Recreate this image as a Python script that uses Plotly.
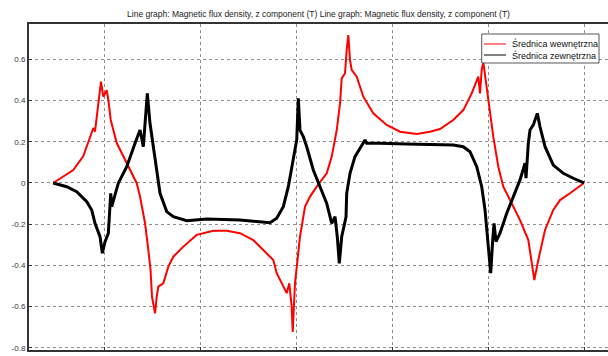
import plotly.graph_objects as go

# Arc-length position along the line and Bz values (T)
x_inner = [-10.6, -6.40, -4.31, -2.23, -1.88, -1.19, -0.83, -0.63, -0.15, 0.56, 0.90, 1.40, 2.65, 4.73,
           6.81, 7.50, 8.54, 9.23, 9.69, 10.0, 10.63, 10.98, 11.31, 12.35, 13.40, 14.44, 16.52, 19.31,
           22.77, 25.56, 28.33, 31.10, 33.19, 35.27, 35.98, 37.35, 38.06, 38.60, 39.10, 39.31, 39.79,
           40.83, 41.88, 42.92, 44.31, 46.40, 47.44, 48.48, 49.17, 49.52, 50.21, 50.56, 50.90, 51.25,
           51.60, 52.65, 54.02, 56.10, 58.90, 61.67, 65.15, 67.92, 70.0, 72.77, 74.85, 76.60, 77.65,
           77.98, 78.33, 78.69, 79.02, 79.73, 80.42, 81.10, 82.15, 83.19, 84.94, 86.67, 88.40, 89.10,
           89.65, 90.48, 91.88, 93.60, 95.0, 97.08, 100.0]
bz_inner = [0.0, 0.063, 0.131, 0.267, 0.249, 0.370, 0.432, 0.492, 0.419, 0.451, 0.403, 0.306, 0.194, 0.097,
            -0.001, -0.066, -0.194, -0.325, -0.422, -0.553, -0.633, -0.552, -0.503, -0.487, -0.406, -0.358,
            -0.309, -0.252, -0.232, -0.232, -0.244, -0.277, -0.325, -0.374, -0.438, -0.503, -0.535, -0.487,
            -0.600, -0.723, -0.487, -0.261, -0.115, -0.066, -0.018, 0.047, 0.128, 0.257, 0.387, 0.508, 0.533,
            0.646, 0.718, 0.597, 0.549, 0.516, 0.419, 0.338, 0.282, 0.249, 0.238, 0.249, 0.262, 0.306, 0.354,
            0.435, 0.500, 0.516, 0.435, 0.549, 0.587, 0.467, 0.354, 0.225, 0.079, -0.018, -0.099, -0.180,
            -0.277, -0.374, -0.471, -0.374, -0.228, -0.131, -0.083, -0.050, 0.0]

x_outer = [-10.6, -7.77, -5.69, -3.60, -2.56, -1.88, -0.83, -0.35, 0.21, 0.90, 1.40, 1.60, 2.98, 4.73,
           6.46, 7.50, 8.19, 8.54, 9.02, 9.58, 10.63, 11.67, 13.06, 14.44, 17.23, 21.40, 28.33, 34.58,
           35.98, 37.35, 38.40, 39.44, 40.15, 40.48, 40.83, 41.52, 42.23, 43.60, 45.0, 46.40, 47.44,
           48.13, 48.60, 49.02, 49.52, 50.42, 50.56, 51.25, 52.29, 53.33, 54.38, 54.73, 57.50, 63.06,
           70.0, 72.77, 74.85, 76.25, 77.65, 78.69, 79.38, 80.06, 80.56, 80.98, 81.25, 81.67, 82.50,
           83.90, 85.27, 86.67, 87.71, 87.92, 88.40, 88.75, 89.44, 90.27, 90.83, 91.88, 93.60, 95.69,
           97.77, 100.0]
bz_outer = [0.0, -0.018, -0.042, -0.091, -0.131, -0.196, -0.261, -0.341, -0.285, -0.244, -0.050, -0.115,
            -0.001, 0.079, 0.193, 0.257, 0.176, 0.306, 0.435, 0.290, 0.112, -0.050, -0.139, -0.164, -0.183,
            -0.175, -0.180, -0.193, -0.171, -0.115, -0.018, 0.128, 0.209, 0.411, 0.257, 0.225, 0.176, 0.063,
            -0.018, -0.099, -0.196, -0.164, -0.261, -0.390, -0.261, -0.164, -0.050, 0.047, 0.128, 0.168,
            0.209, 0.193, 0.193, 0.189, 0.183, 0.184, 0.176, 0.152, 0.079, -0.018, -0.131, -0.309, -0.438,
            -0.277, -0.196, -0.285, -0.244, -0.147, -0.067, 0.015, 0.096, 0.023, 0.193, 0.257, 0.282, 0.338,
            0.273, 0.176, 0.087, 0.047, 0.023, 0.0]

series_names = ["Średnica wewnętrzna", "Średnica zewnętrzna"]
series_colors = ["#ff0000", "#000000"]

x_ticks = [0, 20, 40, 60, 80, 100]
y_ticks = [-0.8, -0.6, -0.4, -0.2, 0, 0.2, 0.4, 0.6]
y_tick_text = ["-0.8", "-0.6", "-0.4", "-0.2", "0", "0.2", "0.4", "0.6"]

title_text = ("Line graph: Magnetic flux density, z component (T) "
              "Line graph: Magnetic flux density, z component (T)")

font = "Liberation Sans, Arial, sans-serif"

fig = go.Figure()
fig.add_trace(go.Scatter(x=x_inner, y=bz_inner, mode="lines", name=series_names[0],
                         line=dict(color=series_colors[0], width=2)))
fig.add_trace(go.Scatter(x=x_outer, y=bz_outer, mode="lines", name=series_names[1],
                         line=dict(color=series_colors[1], width=3)))

grid = dict(showgrid=True, gridcolor="#8c8c8c", gridwidth=1, griddash="dot",
            zeroline=False, ticks="inside", ticklen=3, tickcolor="#333333",
            tickfont=dict(family=font, size=8, color="#333333"),
            showline=True, linecolor="#333333", linewidth=2, automargin=False)

# Boxed legend in the upper-right corner of the axes
box = dict(x0=0.7819, x1=0.9845, y0=0.8804, y1=0.9693)
rows_y = [0.9387, 0.9049]
shapes = [dict(type="rect", xref="paper", yref="paper", **box,
               line=dict(color="#555555", width=1), fillcolor="white", layer="above")]
annotations = []
for name, color, ry in zip(series_names, series_colors, rows_y):
    shapes.append(dict(type="line", xref="paper", yref="paper", x0=0.7858, x1=0.8238,
                       y0=ry, y1=ry, line=dict(color=color, width=1), layer="above"))
    annotations.append(dict(text=name, xref="paper", yref="paper", x=0.8307, y=ry,
                            xanchor="left", yanchor="middle", showarrow=False,
                            font=dict(family=font, size=9, color="#111111")))

fig.update_layout(
    width=608, height=356,
    margin=dict(l=29, r=0, t=24, b=6),
    paper_bgcolor="white", plot_bgcolor="white",
    font=dict(family=font, color="#222222"),
    title=dict(text=title_text, x=0.5, xref="paper", xanchor="center",
               y=1 - 14 / 356, yref="container", yanchor="middle",
               font=dict(family=font, size=8.5, color="#222222")),
    xaxis=dict(range=[-15.63, 105.0], tickvals=x_ticks, mirror=True, **grid),
    yaxis=dict(range=[-0.811, 0.772], tickvals=y_ticks, ticktext=y_tick_text, **grid),
    shapes=shapes,
    annotations=annotations,
    showlegend=False,
)

fig.write_html("out.html")
